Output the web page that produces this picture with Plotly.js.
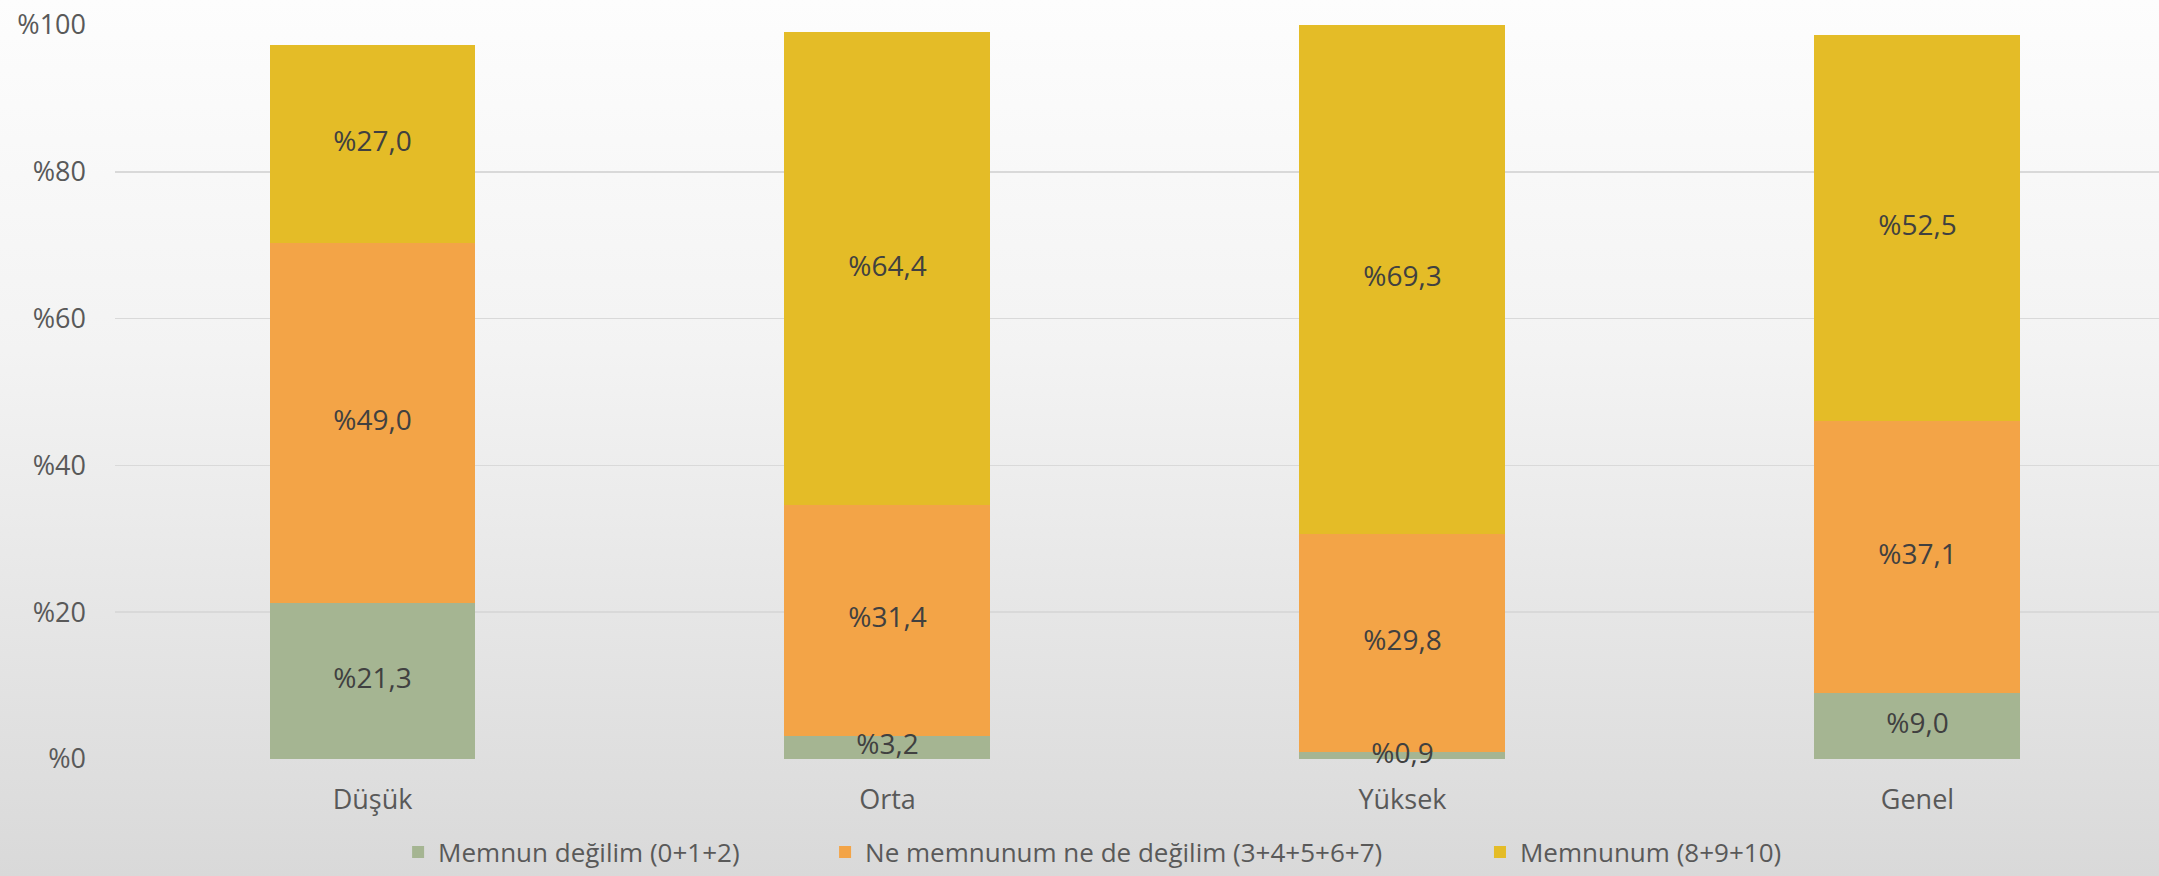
<!DOCTYPE html>
<html>
<head>
<meta charset="utf-8">
<script src="https://cdn.plot.ly/plotly-3.0.1.min.js"></script>
<style>
  html, body { margin: 0; padding: 0; }
  body { width: 2159px; height: 876px; background: linear-gradient(to bottom, #fdfdfd 0%, #f3f3f3 40%, #d9d9d9 100%); }
  #chart { width: 2159px; height: 876px; }
</style>
</head>
<body>
<div id="chart"></div>
<script>
const categories = ["Düşük", "Orta", "Yüksek", "Genel"];
const seriesNames = ["Memnun değilim (0+1+2)", "Ne memnunum ne de değilim (3+4+5+6+7)", "Memnunum (8+9+10)"];
const memnunDegilim = [21.3, 3.2, 0.9, 9.0];
const neMemnunum = [49.0, 31.4, 29.8, 37.1];
const memnunum = [27.0, 64.4, 69.3, 52.5];
const seriesColors = ["#A5B592", "#F3A447", "#E4BC27"];
const yTickVals = [0, 20, 40, 60, 80, 100];
const yTickText = ["%0", "%20", "%40", "%60", "%80", "%100"];

const allSeries = [memnunDegilim, neMemnunum, memnunum];
const legendIds = ["legend", "legend2", "legend3"];
const fmt = v => "%" + v.toFixed(1).replace(".", ",");

const traces = allSeries.map((vals, i) => ({
  type: "bar",
  name: seriesNames[i],
  legend: legendIds[i],
  x: categories,
  y: vals,
  width: 0.4,
  marker: { color: seriesColors[i], line: { width: 0 } },
  hoverinfo: "skip"
}));

// label positions: midpoint of each stacked segment
const base = categories.map(() => 0);
allSeries.forEach((vals) => {
  const mids = vals.map((v, j) => base[j] + v / 2);
  traces.push({
    type: "scatter",
    mode: "text",
    x: categories,
    y: mids,
    text: vals.map(fmt),
    textposition: "middle center",
    textfont: { family: "Open Sans", size: 28, color: "#404040" },
    showlegend: false,
    hoverinfo: "skip",
    cliponaxis: false
  });
  vals.forEach((v, j) => { base[j] += v; });
});

const legendCommon = {
  orientation: "h",
  xanchor: "left",
  y: -0.1267,
  yanchor: "middle",
  font: { family: "Open Sans", size: 26, color: "#595959" },
  bgcolor: "rgba(0,0,0,0)",
  borderwidth: 0
};

const layout = {
  width: 2159,
  height: 876,
  paper_bgcolor: "rgba(0,0,0,0)",
  plot_bgcolor: "rgba(0,0,0,0)",
  barmode: "stack",
  margin: { l: 115, r: 0, t: 25, b: 117, autoexpand: false },
  font: { family: "Open Sans", color: "#595959" },
  xaxis: {
    range: [-0.5, 3.469],
    showgrid: false,
    zeroline: false,
    showline: false,
    ticks: "",
    ticklabelstandoff: 22,
    tickfont: { family: "Open Sans", size: 27, color: "#595959" }
  },
  yaxis: {
    range: [0, 100],
    tickvals: yTickVals,
    ticktext: yTickText,
    showgrid: true,
    gridcolor: "#d9d9d9",
    gridwidth: 1.5,
    zeroline: false,
    showline: false,
    ticks: "",
    ticklabelstandoff: 28,
    tickfont: { family: "Open Sans", size: 27, color: "#595959" }
  },
  showlegend: true,
  legend: Object.assign({}, legendCommon, { x: 0.1385 }),
  legend2: Object.assign({}, legendCommon, { x: 0.3474 }),
  legend3: Object.assign({}, legendCommon, { x: 0.6678 })
};

Plotly.newPlot("chart", traces, layout, { displayModeBar: false, staticPlot: true });
</script>
</body>
</html>
